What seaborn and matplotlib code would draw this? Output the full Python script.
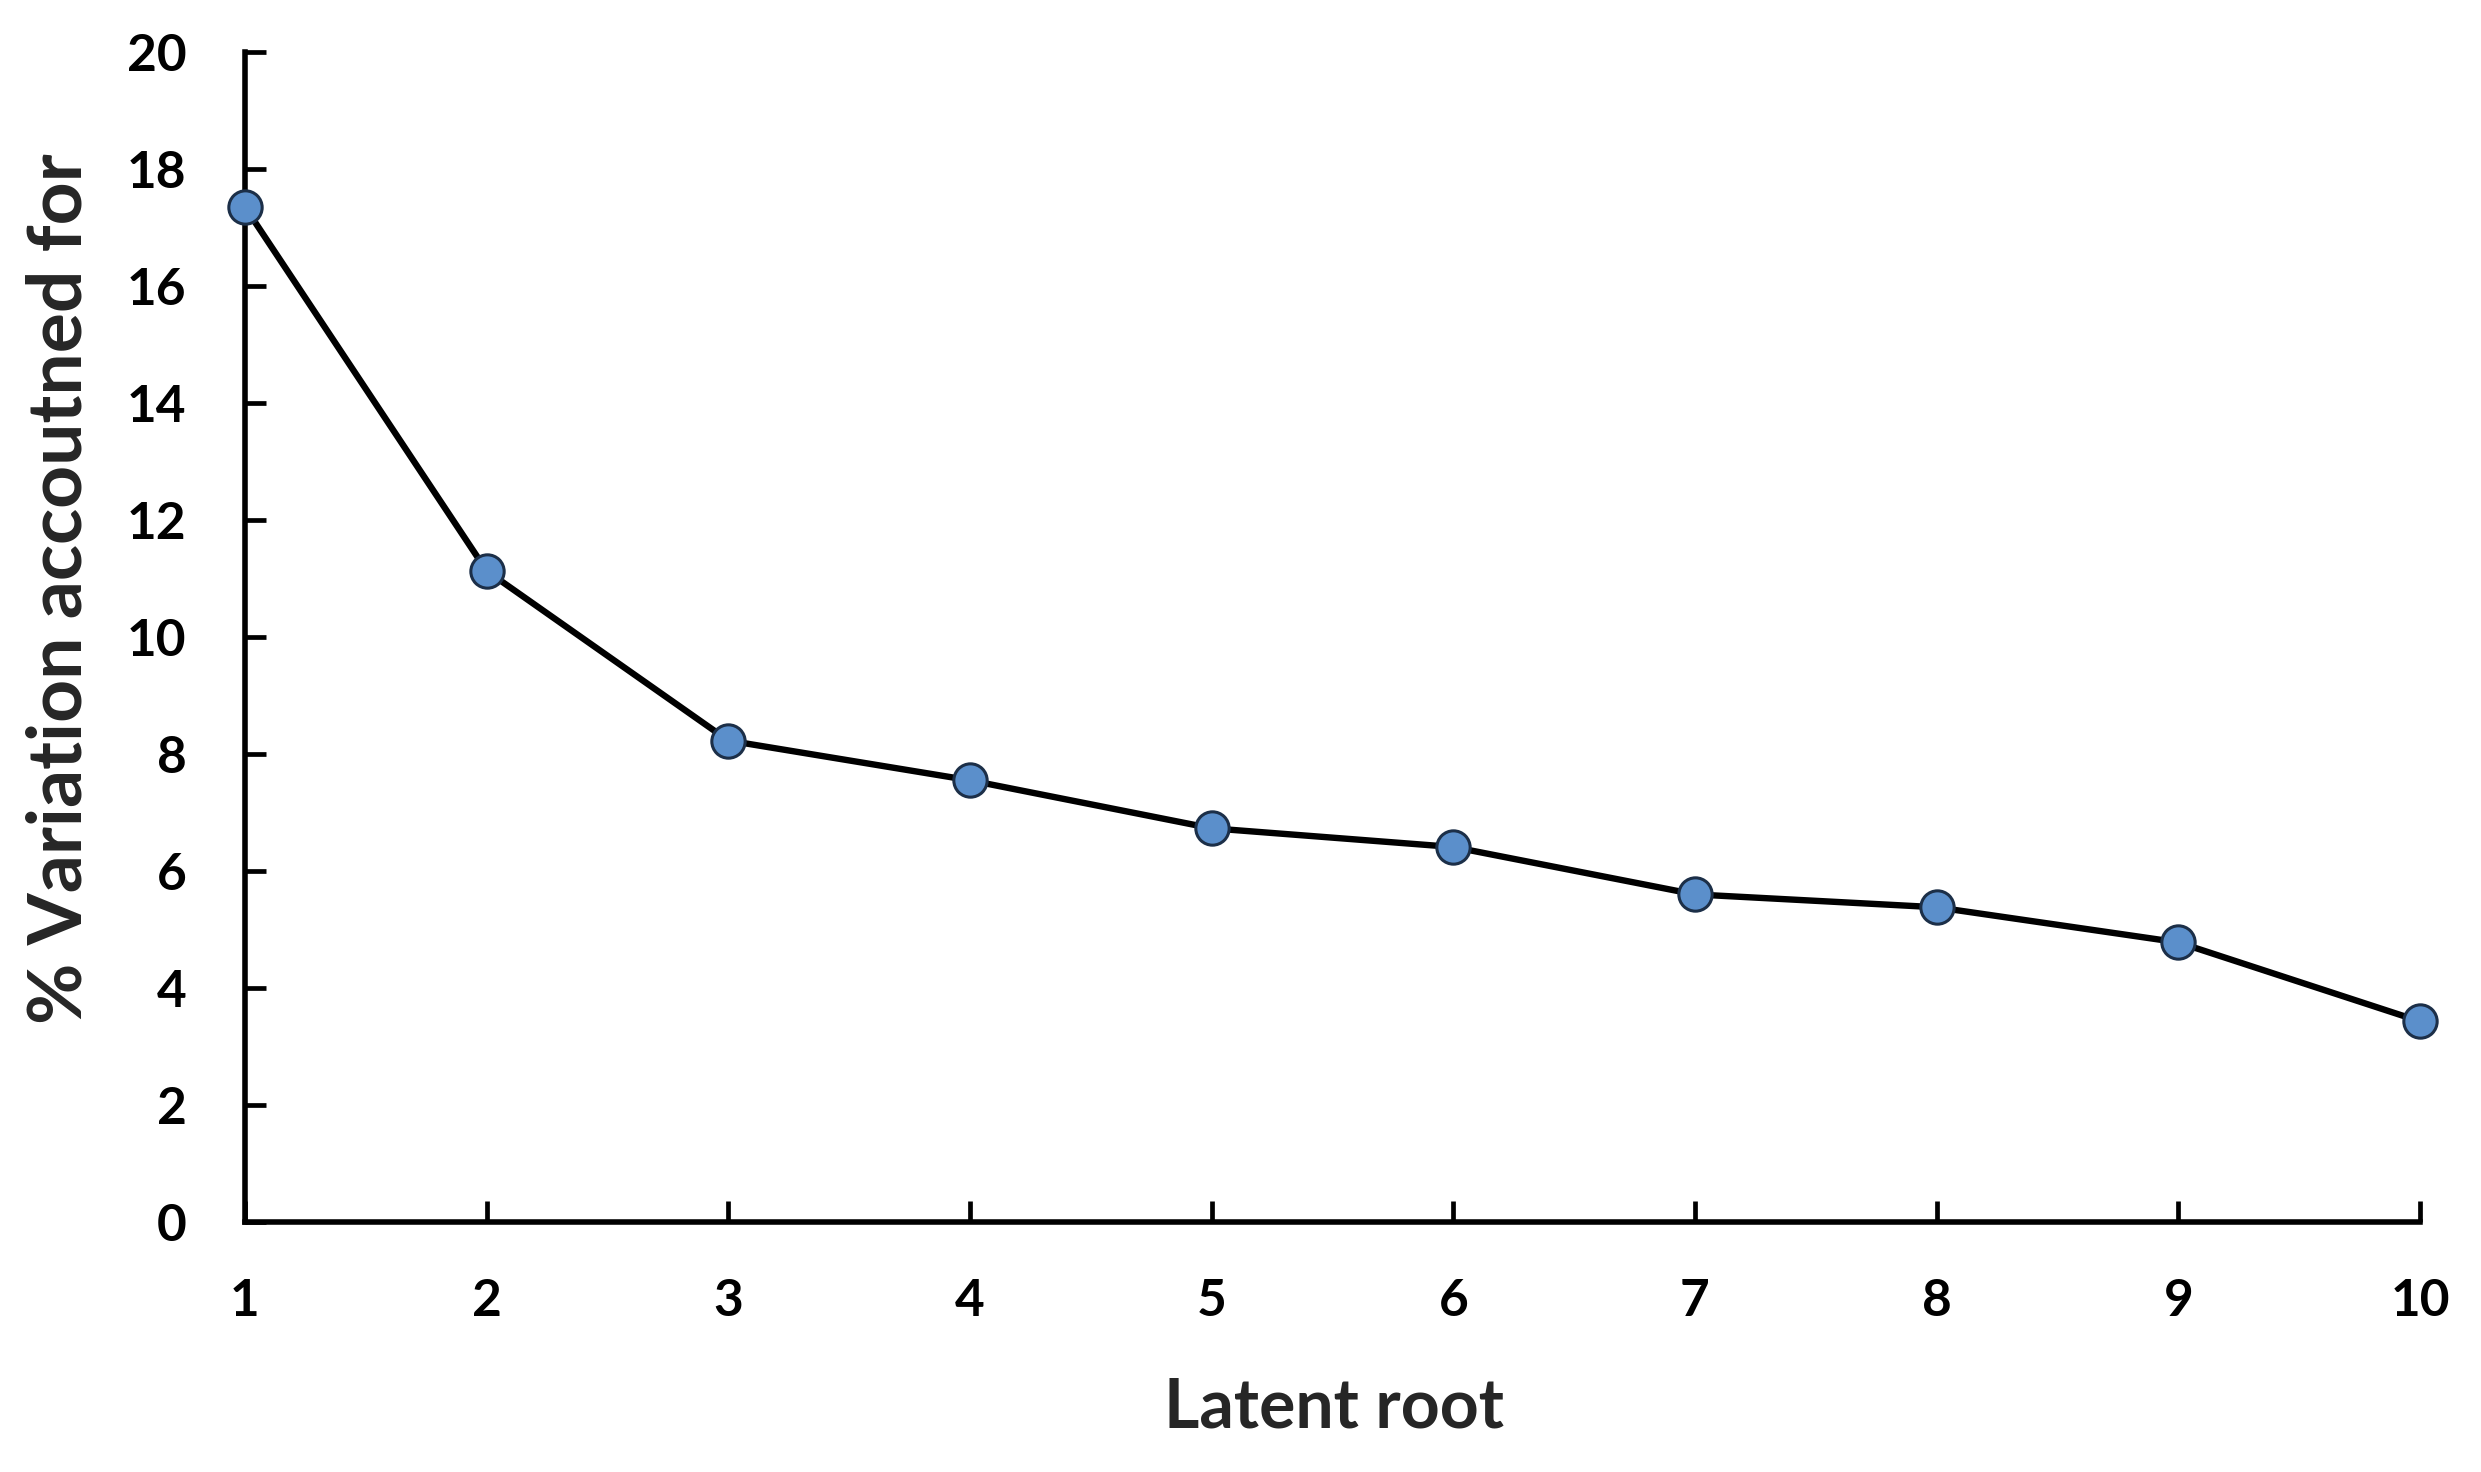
import numpy as np
import pandas as pd
import matplotlib
matplotlib.use("Agg")
import matplotlib.pyplot as plt
import seaborn as sns

# ─── DATA ───────────────────────────────────────────────
latent_root = [1, 2, 3, 4, 5, 6, 7, 8, 9, 10]
pct_variation = [17.35, 11.13, 8.23, 7.55, 6.73, 6.41, 5.60, 5.38, 4.78, 3.43]
y_ticks = [0, 2, 4, 6, 8, 10, 12, 14, 16, 18, 20]

X_LABEL = "Latent root"
Y_LABEL = "% Variation accoutned for"

# ─── STYLE ──────────────────────────────────────────────
sns.set_theme(style="ticks")
plt.rcParams["font.family"] = ["Lato", "DejaVu Sans"]
plt.rcParams["font.weight"] = "bold"

df = pd.DataFrame({"root": latent_root, "var": pct_variation})

fig = plt.figure(figsize=(24.81, 14.72), dpi=100)
ax = fig.add_axes([245 / 2481, 250 / 1472, 2175 / 2481, 1170 / 1472])

sns.lineplot(
    data=df, x="root", y="var", ax=ax,
    color="black", linewidth=4.6,
    marker="o", markersize=24,
    markerfacecolor="#5b8fcb", markeredgecolor="#1c2f48", markeredgewidth=2.2,
    clip_on=False, zorder=5,
)

ax.set_xlim(1, 10)
ax.set_ylim(0, 20)
ax.set_xticks(latent_root)
ax.set_yticks(y_ticks)

for side in ["top", "right"]:
    ax.spines[side].set_visible(False)
for side in ["left", "bottom"]:
    ax.spines[side].set_linewidth(4.0)
    ax.spines[side].set_color("black")

ax.tick_params(axis="both", direction="in", length=15, width=3.4,
               colors="black", labelsize=37)
ax.tick_params(axis="x", pad=40)
ax.tick_params(axis="y", pad=42)
for lab in ax.get_xticklabels() + ax.get_yticklabels():
    lab.set_fontweight("bold")

ax.set_xlabel(X_LABEL, fontsize=49, fontweight="bold", va="center")
ax.set_ylabel(Y_LABEL, fontsize=54, fontweight="bold", va="center")
ax.xaxis.set_label_coords(0.5007, -0.159)
ax.yaxis.set_label_coords(-0.085, 0.541)

fig.savefig("out.png", dpi=100, facecolor="white")
